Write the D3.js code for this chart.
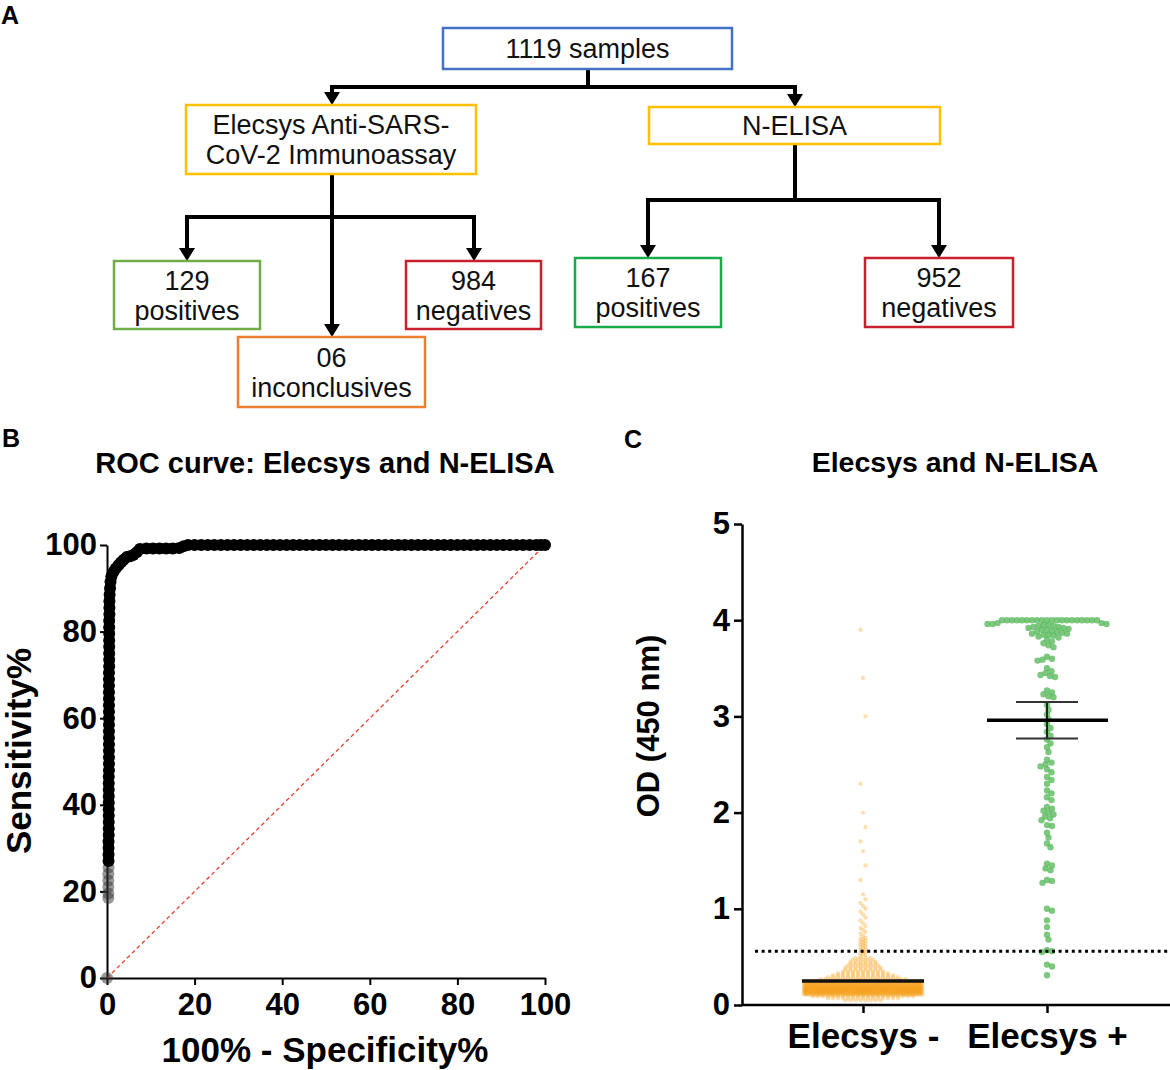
<!DOCTYPE html>
<html>
<head>
<meta charset="utf-8">
<script src="https://cdn.jsdelivr.net/npm/d3@7"></script>
<style>
body{margin:0;background:#fff}
svg{display:block}
text{font-family:"Liberation Sans",Arial,Helvetica,sans-serif}
</style>
</head>
<body>
<svg width="1170" height="1070"></svg>
<script>
// ---- panel A : flow chart ----
var boxIds = ["total","elecsys","nelisa","ePos","eInc","eNeg","nPos","nNeg"];
var boxLines = [["1119 samples"],["Elecsys Anti-SARS-","CoV-2 Immunoassay"],["N-ELISA"],
                ["129","positives"],["06","inconclusives"],["984","negatives"],
                ["167","positives"],["952","negatives"]];
var boxColors = ["#4472c4","#ffc000","#ffc000","#70ad47","#ed7d31","#c9202e","#1aab4b","#c9202e"];

// ---- panel B : ROC curve (100% - specificity, sensitivity) ----
var rocFpr = [0,
  0.3,0.3,0.3,0.3,0.3,0.35,0.35,0.35,0.35,0.35,0.4,0.4,0.4,0.4,0.4,0.4,0.4,0.4,0.4,0.4,
  0.45,0.45,0.45,0.45,0.45,0.45,0.45,0.45,0.45,0.45,0.45,0.45,0.45,0.45,0.45,0.45,0.5,0.5,0.5,0.5,
  0.5,0.5,0.5,0.5,0.55,0.55,0.55,0.6,0.7,0.8,1.0,1.5,2.0,2.6,3.2,3.8,4.5,5.3,6.0,6.8,
  7.5,9,10.5,12,13.5,15,16.5,17.5,18.5,20,21.5,23,24.5,26,27.5,29,30.5,32,33.5,35,
  36.5,38,39.5,41,42.5,44,45.5,47,48.5,50,51.5,53,54.5,56,57.5,59,60.5,62,63.5,65,
  66.5,68,69.5,71,72.5,74,75.5,77,78.5,80,81.5,83,84.5,86,87.5,89,90.5,92,93.5,95,
  96.5,98,99,100];
var rocTpr = [0,
  18.5,19.5,21,22.5,24,25.5,27,28.5,30,31.5,33,34.5,36,37.5,39,40.5,42,43.5,45,46.5,
  48,49.5,51,52.5,54,55.5,57,58.5,60,61.5,63,64.5,66,67.5,69,70.5,72,73.5,75,76.5,
  78,79.5,81,82.5,84,85.5,87,88.5,90,91.5,92.7,93.8,94.6,95.3,96,96.6,97.2,97.4,97.7,98.3,
  99.1,99.2,99.2,99.2,99.2,99.2,99.3,99.7,100,100,100,100,100,100,100,100,100,100,100,100,
  100,100,100,100,100,100,100,100,100,100,100,100,100,100,100,100,100,100,100,100,
  100,100,100,100,100,100,100,100,100,100,100,100,100,100,100,100,100,100,100,100,
  100,100,100,100];
var rocTicks = [0,20,40,60,80,100];

// ---- panel C : OD (450 nm) by Elecsys result ----
var groups = ["Elecsys -","Elecsys +"];
var negBinValues = [0.05,0.07,0.09,0.11,0.13,0.15,0.17,0.19,0.21,0.23,0.25,0.27,0.29,
                    0.31,0.33,0.35,0.37,0.39,0.41,0.43,0.45,0.47,0.49];
var negBinCounts = [8,15,21,80,115,125,125,115,100,75,50,18,15,
                    13,11,9,8,8,7,6,6,5,4];
var negTail = [0.51,0.52,0.53,0.54,0.55,0.56,0.57,0.58,0.59,0.60,0.61,0.62,0.63,0.64,0.65,
               0.66,0.67,0.68,0.69,0.70,0.72,0.74,0.76,0.78,0.80,0.82,0.85,0.88,0.91,0.94,
               0.97,1.00,1.03,1.06,1.10,1.15,1.3,1.45,1.6,1.7,1.85,2.0,2.3,3.0,3.4,3.9];
var posValues = [4,4,4,4,4,4,4,4,4,4,4,4,4,4,4,4,4,4,4,4,
  3.97,3.97,3.96,3.96,3.96,3.95,3.95,3.94,3.94,3.93,3.93,3.92,3.92,3.91,3.9,3.9,3.89,3.88,3.88,3.87,
  3.86,3.86,3.85,3.85,3.84,3.83,3.82,3.8,3.78,3.76,3.74,3.72,
  3.62,3.6,3.59,3.58,3.5,3.47,3.45,3.43,3.42,3.41,3.27,3.25,3.23,3.21,3.2,
  3.12,3.07,3.02,2.97,2.92,2.88,2.84,2.8,2.76,2.72,2.68,2.63,
  2.55,2.52,2.5,2.48,2.45,2.42,2.37,2.34,2.3,2.23,2.2,2.16,2.13,
  2.06,2.04,2.02,2.0,1.98,1.96,1.94,1.92,1.87,1.86,1.79,1.74,1.68,1.64,
  1.47,1.45,1.42,1.4,1.3,1.29,1.27,1.0,0.98,0.88,0.81,0.73,0.68,0.57,0.56,0.55,0.42,0.4,0.31];
var negMean = 0.25;
var posMean = 2.96, posLow = 2.77, posHigh = 3.15;
var cutoff = 0.56;
var odTicks = [0,1,2,3,4,5];

var svg = d3.select("svg");

// panel letters
svg.selectAll("text.panel")
    .data([["A",1,24],["B",2,447],["C",624,448]])
    .enter().append("text")
    .attr("x", function(d){ return d[1]; })
    .attr("y", function(d){ return d[2]; })
    .style("font-size", "25px").style("font-weight", "bold")
    .text(function(d){ return d[0]; });

// ================= A =================
var boxPos = {
    total:[443,28,732,69], elecsys:[186,105,476,174], nelisa:[649,107,940,144],
    ePos:[114,261,260,329], eInc:[238,337,425,407], eNeg:[406,261,541,329],
    nPos:[575,258,721,327], nNeg:[865,258,1013,327]
};
var flow = svg.append("g");

var segs = [[588,69,588,87],[332,87,795,87],[332,174,332,325],
            [187,217,474,217],[795,144,795,200],[648,200,939,200]];
var arrows = [[332,87,105],[795,87,107],[187,217,261],[474,217,261],
              [332,217,337],[648,200,258],[939,200,258]];

flow.selectAll("line.seg").data(segs).enter().append("line")
    .attr("x1", function(d){ return d[0]; }).attr("y1", function(d){ return d[1]; })
    .attr("x2", function(d){ return d[2]; }).attr("y2", function(d){ return d[3]; })
    .attr("stroke", "#000").attr("stroke-width", 4).attr("stroke-linecap", "square");
flow.selectAll("line.arr").data(arrows).enter().append("line")
    .attr("x1", function(d){ return d[0]; }).attr("y1", function(d){ return d[1]; })
    .attr("x2", function(d){ return d[0]; }).attr("y2", function(d){ return d[2] - 10; })
    .attr("stroke", "#000").attr("stroke-width", 4);
flow.selectAll("path.head").data(arrows).enter().append("path")
    .attr("d", function(d){
        return "M" + (d[0]-8) + "," + (d[2]-13) + "L" + (d[0]+8) + "," + (d[2]-13) +
               "L" + d[0] + "," + d[2] + "Z";
    })
    .attr("fill", "#000");

var box = flow.selectAll("g.box").data(boxIds).enter().append("g");
box.append("rect")
    .attr("x", function(d){ return boxPos[d][0]; })
    .attr("y", function(d){ return boxPos[d][1]; })
    .attr("width", function(d){ return boxPos[d][2] - boxPos[d][0]; })
    .attr("height", function(d){ return boxPos[d][3] - boxPos[d][1]; })
    .attr("fill", "#fff")
    .attr("stroke", function(d, i){ return boxColors[i]; })
    .attr("stroke-width", 2.5);
box.each(function(d, i){
    var b = boxPos[d], lines = boxLines[i];
    var cx = (b[0] + b[2]) / 2, cy = (b[1] + b[3]) / 2;
    d3.select(this).selectAll("text").data(lines).enter().append("text")
        .attr("x", cx)
        .attr("y", function(t, j){ return cy + (j - (lines.length - 1) / 2) * 30; })
        .attr("dy", "0.36em")
        .attr("text-anchor", "middle")
        .style("font-size", "27px")
        .attr("fill", "#111")
        .text(function(t){ return t; });
});

// ================= B =================
var xR = d3.scaleLinear().domain([0,100]).range([107,545]);
var yR = d3.scaleLinear().domain([0,100]).range([978,545]);
var roc = svg.append("g");

roc.append("text").attr("x", 325).attr("y", 473).attr("text-anchor", "middle")
    .style("font-size", "29px").style("font-weight", "bold")
    .text("ROC curve: Elecsys and N-ELISA");

var axL = roc.append("g").attr("transform", "translate(107,0)")
    .call(d3.axisLeft(yR).tickValues(rocTicks).tickSize(7).tickSizeOuter(0).tickPadding(3));
var axB = roc.append("g").attr("transform", "translate(0,978)")
    .call(d3.axisBottom(xR).tickValues(rocTicks).tickSize(7).tickSizeOuter(0).tickPadding(8));
[axL, axB].forEach(function(a){
    a.select(".domain").attr("stroke-width", 2);
    a.selectAll(".tick line").attr("stroke-width", 2);
    a.selectAll("text").style("font-size", "31px").style("font-weight", "bold")
        .attr("fill", "#000").style("font-family", "'Liberation Sans',Arial,sans-serif");
});

roc.append("line")
    .attr("x1", xR(0)).attr("y1", yR(0)).attr("x2", xR(100)).attr("y2", yR(100))
    .attr("stroke", "#e8412c").attr("stroke-width", 1.3).attr("stroke-dasharray", "4,3");

var rocPts = rocFpr.map(function(f, i){ return [f, rocTpr[i]]; });
roc.append("path")
    .datum(rocPts.filter(function(p){ return p[1] >= 26; }))
    .attr("d", d3.line().x(function(p){ return xR(p[0]); }).y(function(p){ return yR(p[1]); }))
    .attr("fill", "none").attr("stroke", "#000").attr("stroke-width", 10)
    .attr("stroke-linejoin", "round");
roc.selectAll("circle").data(rocPts).enter().append("circle")
    .attr("cx", function(p){ return xR(p[0]); })
    .attr("cy", function(p){ return yR(p[1]); })
    .attr("r", 6)
    .attr("fill", function(p){ return p[1] < 26 ? "#333" : "#000"; })
    .attr("fill-opacity", function(p){ return p[1] < 26 ? 0.5 : 1; });

roc.append("text")
    .attr("transform", "translate(31,751) rotate(-90)")
    .attr("text-anchor", "middle")
    .style("font-size", "35px").style("font-weight", "bold")
    .text("Sensitivity%");
roc.append("text").attr("x", 325).attr("y", 1062).attr("text-anchor", "middle")
    .style("font-size", "35px").style("font-weight", "bold")
    .text("100% - Specificity%");

// ================= C =================
var yC = d3.scaleLinear().domain([0,5]).range([1005,524]);
var xC = d3.scalePoint().domain(groups).range([863,1047]);
var od = svg.append("g");

od.append("text").attr("x", 955).attr("y", 472).attr("text-anchor", "middle")
    .style("font-size", "28.5px").style("font-weight", "bold")
    .text("Elecsys and N-ELISA");

// negative group: rows from histogram bins + single tail points
var negPts = [];
negBinValues.forEach(function(v, i){
    var n = negBinCounts[i];
    var s = Math.min(5, 118 / Math.max(n - 1, 1));
    for (var j = 0; j < n; j++) negPts.push({v: v, dx: (j - (n - 1) / 2) * s});
});
negTail.forEach(function(v, k){ negPts.push({v: v, dx: [-2.5, 2.5, 0][k % 3]}); });

// positive group: simple beeswarm
var posPts = [];
var D = 5.0;
posValues.slice().sort(d3.descending).forEach(function(v){
    var y = yC(v);
    for (var k = 0; k < 400; k++){
        var dx = (k % 2 ? 1 : -1) * Math.ceil(k / 2) * 0.5;
        var hit = posPts.some(function(p){
            var ddx = dx - p.dx, ddy = y - yC(p.v);
            return ddx * ddx + ddy * ddy < D * D;
        });
        if (!hit){ posPts.push({v: v, dx: dx}); break; }
    }
});

od.selectAll("circle.neg").data(negPts).enter().append("circle")
    .attr("cx", function(d){ return xC(groups[0]) + d.dx; })
    .attr("cy", function(d){ return yC(d.v); })
    .attr("r", 2.2)
    .attr("fill", "#f7a21b").attr("fill-opacity", 0.33);
od.selectAll("circle.pos").data(posPts).enter().append("circle")
    .attr("cx", function(d){ return xC(groups[1]) + d.dx; })
    .attr("cy", function(d){ return yC(d.v); })
    .attr("r", 3.2)
    .attr("fill", "#58b95b").attr("fill-opacity", 0.78);

// cut-off
od.append("line").attr("x1", 755).attr("x2", 1170)
    .attr("y1", yC(cutoff)).attr("y2", yC(cutoff))
    .attr("stroke", "#000").attr("stroke-width", 3).attr("stroke-dasharray", "3,3.6");

// mean and error bars
od.append("line").attr("x1", xC(groups[0]) - 61).attr("x2", xC(groups[0]) + 61)
    .attr("y1", yC(negMean)).attr("y2", yC(negMean))
    .attr("stroke", "#111").attr("stroke-width", 3.5);
od.append("line").attr("x1", xC(groups[1])).attr("x2", xC(groups[1]))
    .attr("y1", yC(posLow)).attr("y2", yC(posHigh))
    .attr("stroke", "#222").attr("stroke-width", 2);
[posLow, posHigh].forEach(function(v){
    od.append("line").attr("x1", xC(groups[1]) - 31).attr("x2", xC(groups[1]) + 31)
        .attr("y1", yC(v)).attr("y2", yC(v))
        .attr("stroke", "#333").attr("stroke-width", 2);
});
od.append("line").attr("x1", xC(groups[1]) - 60).attr("x2", xC(groups[1]) + 61)
    .attr("y1", yC(posMean)).attr("y2", yC(posMean))
    .attr("stroke", "#000").attr("stroke-width", 3.5);

// axes
var ayC = od.append("g").attr("transform", "translate(742,0)")
    .call(d3.axisLeft(yC).tickValues(odTicks).tickFormat(d3.format("d"))
          .tickSize(8).tickSizeOuter(0).tickPadding(4));
var axC = od.append("g").attr("transform", "translate(0,1005)")
    .call(d3.axisBottom(xC).tickSize(8).tickSizeOuter(0).tickPadding(10));
axC.select(".domain").remove();
od.append("line").attr("x1", 742).attr("x2", 1170).attr("y1", 1005).attr("y2", 1005)
    .attr("stroke", "#000").attr("stroke-width", 2.5);
ayC.select(".domain").attr("stroke-width", 2.5);
[ayC, axC].forEach(function(a){
    a.selectAll(".tick line").attr("stroke-width", 2.5);
    a.selectAll("text").style("font-weight", "bold").attr("fill", "#000")
        .style("font-family", "'Liberation Sans',Arial,sans-serif");
});
ayC.selectAll("text").style("font-size", "31px");
axC.selectAll("text").style("font-size", "35px");

od.append("text")
    .attr("transform", "translate(659,726) rotate(-90)")
    .attr("text-anchor", "middle")
    .style("font-size", "31px").style("font-weight", "bold")
    .text("OD (450 nm)");
</script>
</body>
</html>
